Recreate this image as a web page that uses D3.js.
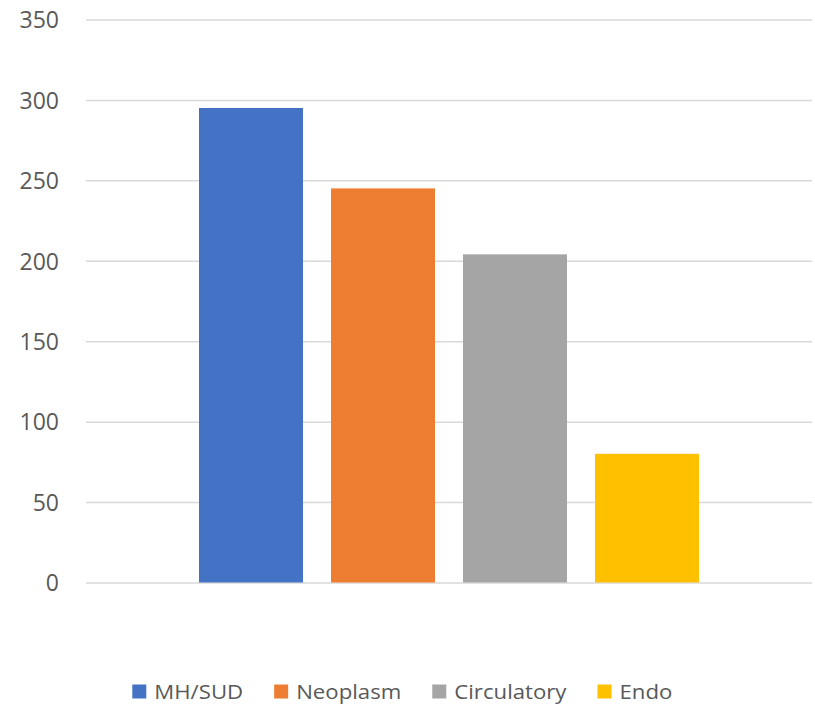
<!DOCTYPE html>
<html>
<head>
<meta charset="utf-8">
<script src="https://cdn.jsdelivr.net/npm/d3@7"></script>
<style>
  html, body { margin: 0; padding: 0; background: #fff; }
  svg { display: block; }
</style>
</head>
<body>
<svg id="chart" width="815" height="704"></svg>
<script>
// ---- data ----
const category = ["Total"];
const seriesNames = ["MH/SUD", "Neoplasm", "Circulatory", "Endo"];
const seriesValues = [295, 245, 204, 80];
const seriesColors = ["#4472C4", "#ED7D31", "#A5A5A5", "#FFC000"];
const yTicks = [0, 50, 100, 150, 200, 250, 300, 350];

const svg = d3.select("#chart");
const fontFamily = "'Open Sans', 'Noto Sans', sans-serif";
const textColor = "#595959";

const plot = { left: 86, right: 812, top: 19.5, bottom: 582.5 };

const y = d3.scaleLinear().domain([0, 350]).range([plot.bottom, plot.top]);

const x0 = d3.scaleBand().domain(category).range([plot.left, plot.right])
  .paddingInner(0).paddingOuter(0.226);
const x1 = d3.scaleBand().domain(seriesNames).range([0, x0.bandwidth()])
  .paddingInner(28 / 132).paddingOuter(0);

// gridlines
const yAxis = d3.axisLeft(y).tickValues(yTicks)
  .tickSize(-(plot.right - plot.left)).tickPadding(27)
  .tickFormat(d3.format("d"));
const gAxis = svg.append("g")
  .attr("transform", `translate(${plot.left},0)`)
  .call(yAxis);
gAxis.select(".domain").remove();
gAxis.selectAll(".tick line").attr("stroke", "#d9d9d9").attr("stroke-width", 1.5);
gAxis.selectAll(".tick text")
  .attr("fill", textColor)
  .style("font-family", fontFamily)
  .style("font-size", "23px")
  .attr("dy", "0.36em");

// bars
const data = seriesNames.map((n, i) => ({ name: n, value: seriesValues[i], color: seriesColors[i] }));
svg.append("g")
  .selectAll("rect")
  .data(data)
  .join("rect")
  .attr("x", d => x0(category[0]) + x1(d.name))
  .attr("width", x1.bandwidth())
  .attr("y", d => y(d.value))
  .attr("height", d => y(0) - y(d.value))
  .attr("fill", d => d.color);

// legend
const legend = svg.append("g");
const sw = 14, swGap = 8, itemGap = 31, stretch = 1.11;
let cx = 132.3;
const baseY = 698.5;
data.forEach(d => {
  legend.append("rect")
    .attr("x", cx).attr("y", baseY - sw)
    .attr("width", sw).attr("height", sw)
    .attr("fill", d.color);
  const tx = cx + sw + swGap;
  const t = legend.append("text")
    .attr("transform", `translate(${tx},${baseY}) scale(${stretch},1)`)
    .attr("fill", textColor)
    .style("font-family", fontFamily)
    .style("font-size", "20px")
    .text(d.name);
  const w = t.node().getComputedTextLength() * stretch;
  cx = tx + w + itemGap;
});
</script>
</body>
</html>
